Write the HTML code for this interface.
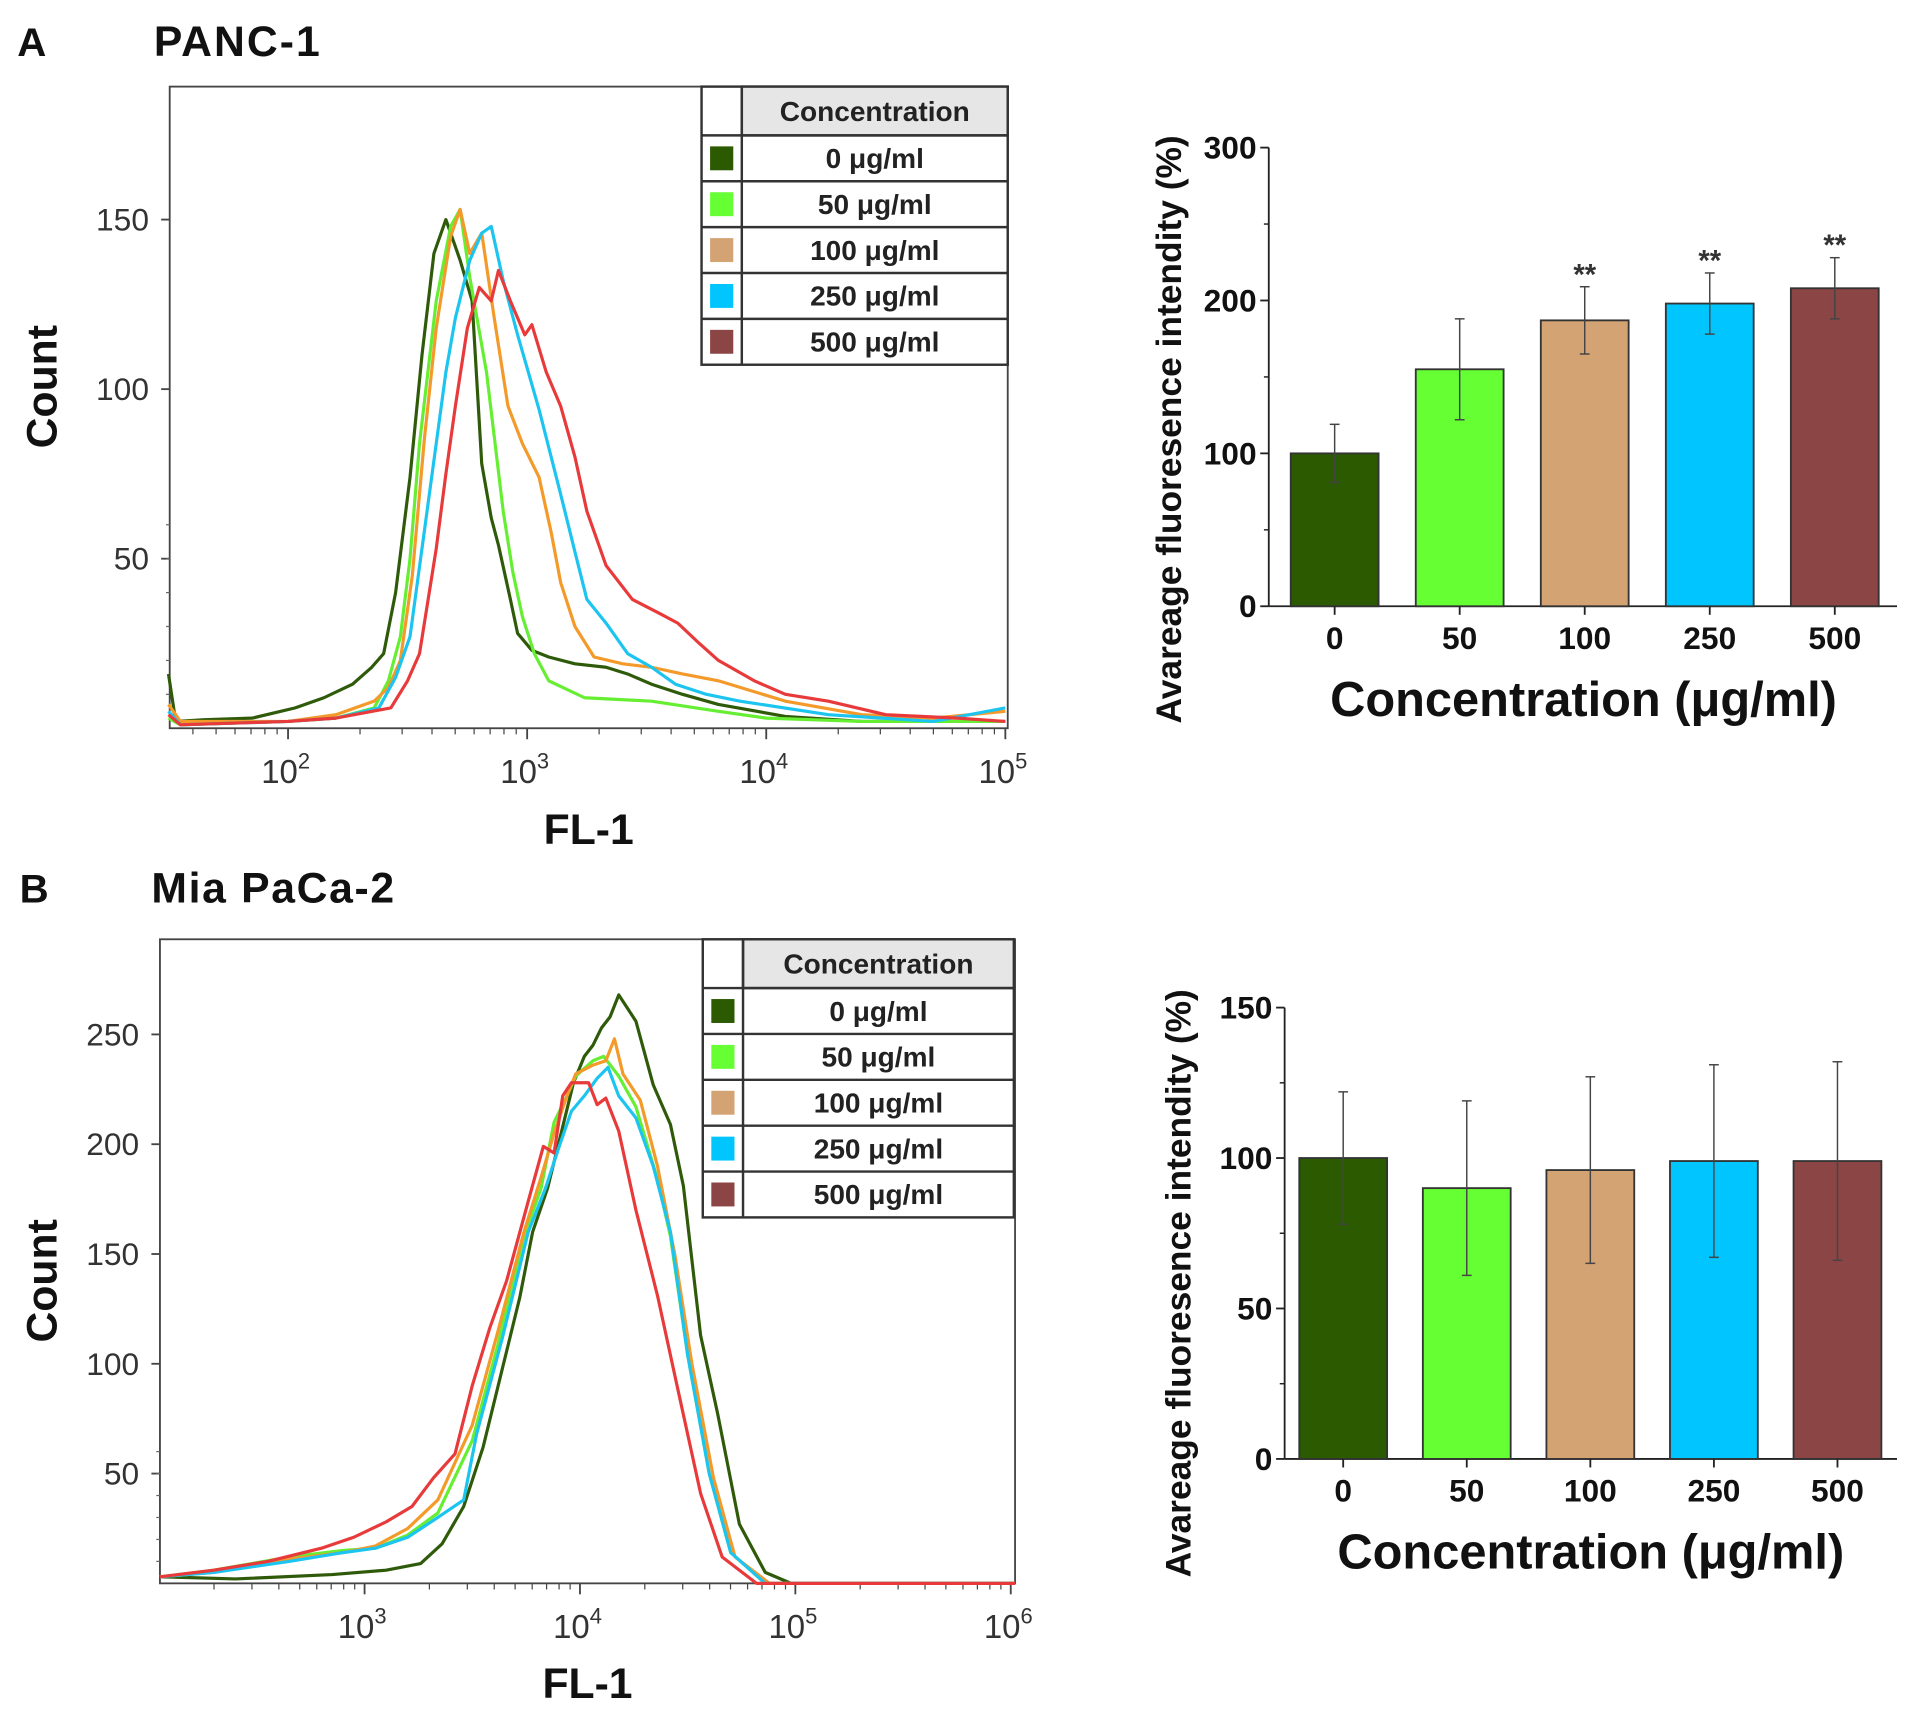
<!DOCTYPE html>
<html><head><meta charset="utf-8"><style>
html,body{margin:0;padding:0;background:#fff;}
svg{display:block;font-family:"Liberation Sans",sans-serif;}
</style></head><body>
<svg id="fig" width="1913" height="1709" viewBox="0 0 1568 1401" xmlns="http://www.w3.org/2000/svg">
<text x="14" y="46" font-size="33" font-weight="bold" fill="#111">A</text>
<text x="126" y="46" font-size="35" font-weight="bold" fill="#111" textLength="136">PANC-1</text>
<text x="16" y="740" font-size="33" font-weight="bold" fill="#111">B</text>
<text x="124" y="740" font-size="35" font-weight="bold" fill="#111" textLength="199">Mia PaCa-2</text>
<g id="layer"></g>
</svg>
<script>
// ---- Data ----
const seriesLabels = ["0 μg/ml","50 μg/ml","100 μg/ml","250 μg/ml","500 μg/ml"];
const barCategories = ["0","50","100","250","500"];
const lineColors = ["#2e5a0a","#66ee33","#f39a2a","#1cc4f0","#e83a3a"];
const barColors = ["#2b5a00","#66ff33","#d4a373","#00c5ff","#8b4545"];
// Panel A histograms: [log10(FL-1), count]
const histA0 = [[1.5,16],[1.53,2],[1.65,2.5],[1.85,3],[2.03,6],[2.15,9],[2.27,13],[2.35,18],[2.4,22],[2.45,40],[2.51,74],[2.56,110],[2.61,140],[2.66,150],[2.72,138],[2.77,126],[2.81,78],[2.85,62],[2.88,54],[2.93,38],[2.96,28],[3.02,23],[3.09,21],[3.2,19],[3.33,18],[3.42,16],[3.52,13],[3.65,10],[3.8,7],[4.08,3.5],[4.4,2],[5.0,2]];
const histA1 = [[1.5,3],[1.55,1],[2.0,2],[2.2,3],[2.36,6],[2.42,14],[2.47,27],[2.51,50],[2.55,84],[2.62,126],[2.68,148],[2.72,153],[2.76,133],[2.83,105],[2.9,64],[2.94,46],[2.98,33],[3.03,22],[3.09,14],[3.24,9],[3.52,8],[3.8,5],[4.0,3],[4.4,2],[5.0,2]];
const histA2 = [[1.5,7],[1.55,2],[2.0,2],[2.2,4],[2.36,8],[2.42,12],[2.47,20],[2.52,45],[2.57,85],[2.62,118],[2.68,145],[2.72,153],[2.76,140],[2.81,146],[2.86,122],[2.92,95],[2.98,84],[3.05,74],[3.1,58],[3.14,43],[3.2,30],[3.28,21],[3.4,19],[3.52,18],[3.65,16],[3.8,14],[4.08,8],[4.4,4],[4.7,3],[5.0,5]];
const histA3 = [[1.5,5],[1.55,1],[2.0,2],[2.2,3],[2.38,6],[2.45,15],[2.51,27],[2.57,58],[2.62,84],[2.66,105],[2.7,121],[2.76,138],[2.81,146],[2.85,148],[2.9,132],[2.96,116],[3.05,94],[3.14,69],[3.2,52],[3.25,38],[3.33,31],[3.42,22],[3.52,18],[3.62,13],[3.75,10],[3.89,8],[4.26,4],[4.7,2],[5.0,6]];
const histA4 = [[1.5,4],[1.55,1],[2.0,2],[2.2,3],[2.43,6],[2.5,14],[2.55,22],[2.62,53],[2.66,75],[2.7,95],[2.75,118],[2.8,130],[2.85,126],[2.88,135],[2.93,126],[2.99,116],[3.02,119],[3.08,105],[3.14,95],[3.2,80],[3.25,64],[3.33,48],[3.44,38],[3.55,34],[3.63,31],[3.72,25],[3.8,20],[3.95,14],[4.08,10],[4.26,8],[4.5,4],[4.8,3],[5.0,2]];
// Panel B histograms
const histB0 = [[2.05,3],[2.4,2],[2.85,4],[3.1,6],[3.26,9],[3.36,18],[3.46,35],[3.55,62],[3.64,98],[3.72,130],[3.78,160],[3.85,180],[3.92,208],[3.97,228],[4.02,240],[4.06,245],[4.1,253],[4.14,258],[4.18,268],[4.22,262],[4.26,256],[4.34,227],[4.42,209],[4.48,181],[4.56,113],[4.64,77],[4.74,27],[4.86,5],[4.98,0],[6.02,0]];
const histB1 = [[2.05,3],[2.3,6],[2.65,12],[2.9,15],[3.05,16],[3.2,22],[3.34,32],[3.5,65],[3.62,109],[3.74,158],[3.82,180],[3.88,210],[3.94,222],[3.98,231],[4.06,238],[4.11,240],[4.18,231],[4.26,217],[4.36,184],[4.42,158],[4.5,104],[4.6,50],[4.7,14],[4.86,0],[6.02,0]];
const histB2 = [[2.05,3],[2.3,5],[2.65,11],[2.9,14],[3.05,17],[3.2,25],[3.34,38],[3.5,72],[3.62,115],[3.74,160],[3.82,185],[3.88,205],[3.94,222],[3.98,232],[4.06,236],[4.12,238],[4.16,248],[4.2,232],[4.28,220],[4.36,190],[4.44,150],[4.52,100],[4.62,48],[4.72,12],[4.88,0],[6.02,0]];
const histB3 = [[2.05,3],[2.3,5],[2.65,10],[2.9,14],[3.05,16],[3.2,21],[3.34,30],[3.46,38],[3.52,68],[3.64,112],[3.76,160],[3.84,180],[3.9,198],[3.96,215],[4.02,222],[4.08,230],[4.13,235],[4.18,222],[4.26,212],[4.34,190],[4.42,160],[4.5,104],[4.6,50],[4.7,14],[4.86,0],[6.02,0]];
const histB4 = [[2.05,3],[2.3,6],[2.55,10],[2.8,16],[2.95,21],[3.1,28],[3.22,35],[3.32,48],[3.42,59],[3.5,90],[3.58,116],[3.66,138],[3.76,174],[3.83,199],[3.88,196],[3.92,222],[3.96,228],[4.04,228],[4.08,218],[4.12,221],[4.18,206],[4.26,170],[4.36,131],[4.46,86],[4.56,41],[4.66,12],[4.82,0],[6.02,0]];
// Bar values
const barA = [100,155,187,198,208];
const errA = [19,33,22,20,20];
const sigA = ["","","**","**","**"];
const barB = [100,90,96,99,99];
const errB = [22,29,31,32,33];
const sigB = ["","","","",""];
const yTicksA_hist = [50,100,150];
const yTicksB_hist = [50,100,150,200,250];
const yTicksA_bar = [0,100,200,300];
const yTicksB_bar = [0,50,100,150];

const NS="http://www.w3.org/2000/svg";
const layer=document.getElementById('layer');
function mk(tag,attrs,parent){const e=document.createElementNS(NS,tag);for(const k in attrs)e.setAttribute(k,attrs[k]);(parent||layer).appendChild(e);return e;}

function histogram(cfg){
  const g=mk('g',{});
  
  
  const X=v=>cfg.x0+(v-cfg.lmin)/(cfg.lmax-cfg.lmin)*(cfg.x1-cfg.x0);
  const Y=v=>cfg.yb+(cfg.y0-cfg.yb)*v/cfg.ymaxVal;
  const frame=mk('rect',{x:cfg.x0,y:cfg.yt,width:cfg.x1-cfg.x0,height:cfg.yb-cfg.yt,fill:'none',stroke:'#444','stroke-width':1.5},g);
  
  
  for(const t of cfg.yticks){
    const y=Y(t);
    mk('line',{x1:cfg.x0-7,x2:cfg.x0,y1:y,y2:y,stroke:'#444','stroke-width':1.5},g);
    const tx=mk('text',{x:cfg.x0-17,y:y+9,'font-size':26,'text-anchor':'end',fill:'#333'},g);
    tx.textContent=t;
    
    
  }
  for(let t=10;t<cfg.ymaxVal*1.25;t+=10){const y=Y(t);if(y<cfg.yt)break;mk('line',{x1:cfg.x0-3,x2:cfg.x0,y1:y,y2:y,stroke:'#666','stroke-width':1},g);}
  for(let d=Math.floor(cfg.lmin);d<=cfg.lmax;d++){
    for(let m=1;m<10;m++){
      const lv=d+Math.log10(m);
      if(lv<cfg.lmin-1e-6||lv>cfg.lmax+1e-6)continue;
      const x=X(lv);
      mk('line',{x1:x,x2:x,y1:cfg.yb,y2:cfg.yb+(m==1?9:5),stroke:'#444','stroke-width':m==1?1.5:1},g);
      if(m==1){
        const tx=mk('text',{x:x-2,y:cfg.yb+45,'font-size':27,'text-anchor':'middle',fill:'#333'},g);
        
        
        tx.appendChild(document.createTextNode('10'));
        const s=mk('tspan',{dy:-12,'font-size':18},tx);s.textContent=d;
      }
    }
  }
  cfg.series.forEach((s,i)=>{
    const p=mk('polyline',{points:s.map(q=>X(q[0]).toFixed(1)+','+Y(q[1]).toFixed(1)).join(' '),fill:'none',stroke:lineColors[i],'stroke-width':2.6,'stroke-linejoin':'round'},g);
    
    
  });
  const xl=mk('text',{x:(cfg.x0+cfg.x1)/2,y:cfg.xlabY,'font-size':35,'font-weight':'bold','text-anchor':'middle',fill:'#111'},g);
  xl.textContent='FL-1';
  
  
  const yl=mk('text',{x:0,y:0,'font-size':35,'font-weight':'bold','text-anchor':'middle',fill:'#111',transform:`translate(${cfg.ylabX},${cfg.ylabY}) rotate(-90)`},g);
  yl.textContent='Count';
  
  
  const L=cfg.leg;
  const lg=mk('g',{},g);
  
  
  mk('rect',{x:L.x,y:L.y,width:L.w,height:L.hh+5*L.rh,fill:'#fff',stroke:'#333','stroke-width':2},lg);
  mk('rect',{x:L.x+33,y:L.y,width:L.w-33,height:L.hh,fill:'#e6e6e6',stroke:'#333','stroke-width':2},lg);
  mk('line',{x1:L.x+33,x2:L.x+33,y1:L.y,y2:L.y+L.hh+5*L.rh,stroke:'#333','stroke-width':2},lg);
  const ht=mk('text',{x:L.x+33+(L.w-33)/2,y:L.y+L.hh/2+8,'font-size':23,'font-weight':'bold','text-anchor':'middle',fill:'#222'},lg);
  ht.textContent='Concentration';
  seriesLabels.forEach((lab,i)=>{
    const ry=L.y+L.hh+i*L.rh;
    mk('line',{x1:L.x,x2:L.x+L.w,y1:ry,y2:ry,stroke:'#333','stroke-width':2},lg);
    const sw=mk('rect',{x:L.x+7,y:ry+9,width:19,height:L.rh-18,fill:barColors[i]},lg);
    
    
    const t=mk('text',{x:L.x+33+(L.w-33)/2,y:ry+L.rh/2+8,'font-size':23,'font-weight':'bold','text-anchor':'middle',fill:'#222'},lg);
    t.textContent=lab;
    
    
  });
}

function barChart(cfg){
  const g=mk('g',{});
  
  
  const Y=v=>cfg.y0+(cfg.yTop-cfg.y0)*v/cfg.yMax;
  const X=i=>cfg.xFirst+i*cfg.step;
  mk('line',{x1:cfg.ax,x2:cfg.ax,y1:Y(cfg.yMax),y2:cfg.y0,stroke:'#222','stroke-width':1.5},g);
  mk('line',{x1:cfg.ax,x2:cfg.xEnd,y1:cfg.y0,y2:cfg.y0,stroke:'#222','stroke-width':1.5},g);
  for(const t of cfg.yticks){
    const y=Y(t);
    mk('line',{x1:cfg.ax-7,x2:cfg.ax,y1:y,y2:y,stroke:'#222','stroke-width':1.5},g);
    const tx=mk('text',{x:cfg.ax-10,y:y+9,'font-size':26,'font-weight':'bold','text-anchor':'end',fill:'#111'},g);
    tx.textContent=t;
    
    
  }
  const half=cfg.yticks[1]/2;
  for(let t=half;t<cfg.yMax;t+=cfg.yticks[1]){const y=Y(t);mk('line',{x1:cfg.ax-4,x2:cfg.ax,y1:y,y2:y,stroke:'#222','stroke-width':1.2},g);}
  cfg.values.forEach((v,i)=>{
    const cx=X(i);
    const r=mk('rect',{x:cx-cfg.bw/2,y:Y(v),width:cfg.bw,height:cfg.y0-Y(v),fill:barColors[i],stroke:'#333','stroke-width':1.5},g);
    
    
    const e=cfg.errs[i];
    const eb=mk('g',{stroke:'#444','stroke-width':1.2},g);
    
    
    mk('line',{x1:cx,x2:cx,y1:Y(v+e),y2:Y(v-e)},eb);
    mk('line',{x1:cx-4,x2:cx+4,y1:Y(v+e),y2:Y(v+e)},eb);
    mk('line',{x1:cx-4,x2:cx+4,y1:Y(v-e),y2:Y(v-e)},eb);
    mk('line',{x1:cx,x2:cx,y1:cfg.y0,y2:cfg.y0+7,stroke:'#222','stroke-width':1.5},g);
    const tl=mk('text',{x:cx,y:cfg.y0+35,'font-size':26,'font-weight':'bold','text-anchor':'middle',fill:'#111'},g);
    tl.textContent=barCategories[i];
    
    
    if(cfg.sig[i]){
      const st=mk('text',{x:cx,y:Y(v+e)-2,'font-size':24,'font-weight':'bold','text-anchor':'middle',fill:'#333'},g);
      st.textContent=cfg.sig[i];
      
      
    }
  });
  const xl=mk('text',{x:cfg.xlabX,y:cfg.xlabY,'font-size':40,'font-weight':'bold','text-anchor':'middle',fill:'#111'},g);
  xl.textContent='Concentration (μg/ml)';
  
  
  const yl=mk('text',{x:0,y:0,'font-size':29,'font-weight':'bold','text-anchor':'middle',fill:'#111',transform:`translate(${cfg.ylabX},${cfg.ylabY}) rotate(-90)`},g);
  yl.textContent='Avareage fluoresence intendity (%)';
  
  
}

histogram({name:'panc1-histogram',x0:139,x1:826,yt:71,yb:597,lmin:1.505,lmax:5.01,y0:458,ymaxVal:50,yticks:yTicksA_hist,
  series:[histA0,histA1,histA2,histA3,histA4],xlabY:692,ylabX:46,ylabY:317,leg:{x:575,y:71,w:251,hh:40,rh:37.6}});
histogram({name:'miapaca2-histogram',x0:131,x1:832,yt:770,yb:1298,lmin:2.05,lmax:6.02,y0:1208,ymaxVal:50,yticks:yTicksB_hist,
  series:[histB0,histB1,histB2,histB3,histB4],xlabY:1392,ylabX:46,ylabY:1050,leg:{x:576,y:770,w:255,hh:40,rh:37.6}});
barChart({name:'panc1-bar-chart',ax:1040,xEnd:1555,y0:497,yTop:121,yMax:300,yticks:yTicksA_bar,xFirst:1094,step:102.5,bw:72,
  values:barA,errs:errA,sig:sigA,xlabX:1298,xlabY:587,ylabX:968,ylabY:352});
barChart({name:'miapaca2-bar-chart',ax:1053,xEnd:1555,y0:1196,yTop:826,yMax:150,yticks:yTicksB_bar,xFirst:1101,step:101.3,bw:72,
  values:barB,errs:errB,sig:sigB,xlabX:1304,xlabY:1286,ylabX:976,ylabY:1052});
</script>
</body></html>
